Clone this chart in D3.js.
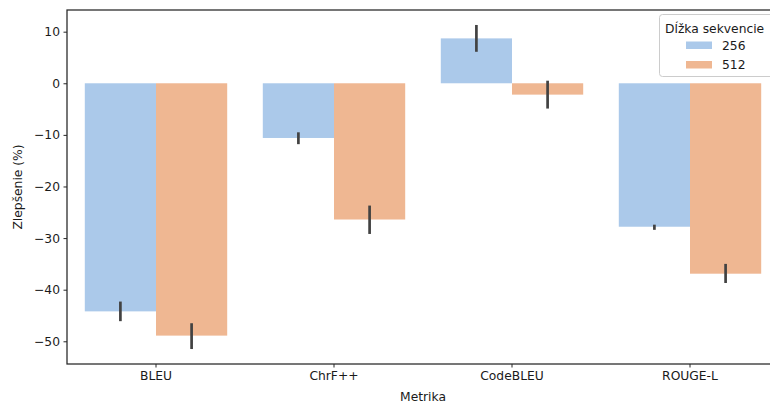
<!DOCTYPE html>
<html>
<head>
<meta charset="utf-8">
<script src="https://cdn.jsdelivr.net/npm/d3@7"></script>
<style>
  body { margin: 0; background: #fff; }
  text { font-family: "DejaVu Sans", sans-serif; fill: #1a1a1a; }
</style>
</head>
<body>
<div id="chart"></div>
<script>
// data
var metrics = ["BLEU", "ChrF++", "CodeBLEU", "ROUGE-L"];
var seqLens = ["256", "512"];
var mean256 = [-44.2, -10.6, 8.7, -27.8];
var mean512 = [-48.9, -26.4, -2.2, -36.9];
var ciLow256 = [-46.1, -11.8, 6.1, -28.4];
var ciHigh256 = [-42.3, -9.5, 11.3, -27.4];
var ciLow512 = [-51.5, -29.2, -4.9, -38.7];
var ciHigh512 = [-46.5, -23.7, 0.5, -35.0];
var yTicks = [10, 0, -10, -20, -30, -40, -50];

var colors = {"256": "#abc9ea", "512": "#efb792"};
var fs = "12.3px";

// set the dimensions and margins of the graph
var margin = {top: 10, right: -9, bottom: 42, left: 67},
    width = 770 - margin.left - margin.right,
    height = 406 - margin.top - margin.bottom;

var svg = d3.select("#chart")
  .append("svg")
    .attr("width", 770)
    .attr("height", 406)
  .append("g")
    .attr("transform", "translate(" + margin.left + "," + margin.top + ")");

var x = d3.scaleBand()
  .domain(metrics)
  .range([0, width])
  .padding(0);

var xSub = d3.scaleBand()
  .domain(seqLens)
  .range([x.bandwidth() * 0.1, x.bandwidth() * 0.9]);

var y = d3.scaleLinear()
  .domain([-54.4, 14.2])
  .range([height, 0]);

// rows for bars
var rows = [];
metrics.forEach(function(m, i) {
  rows.push({metric: m, len: "256", value: mean256[i], lo: ciLow256[i], hi: ciHigh256[i]});
  rows.push({metric: m, len: "512", value: mean512[i], lo: ciLow512[i], hi: ciHigh512[i]});
});

svg.selectAll("myBars")
  .data(rows)
  .enter()
  .append("rect")
    .attr("x", function(d) { return x(d.metric) + xSub(d.len); })
    .attr("width", xSub.bandwidth())
    .attr("y", function(d) { return y(Math.max(0, d.value)); })
    .attr("height", function(d) { return Math.abs(y(d.value) - y(0)); })
    .style("fill", function(d) { return colors[d.len]; });

// error bars
svg.selectAll("myErr")
  .data(rows)
  .enter()
  .append("line")
    .attr("x1", function(d) { return x(d.metric) + xSub(d.len) + xSub.bandwidth() / 2; })
    .attr("x2", function(d) { return x(d.metric) + xSub(d.len) + xSub.bandwidth() / 2; })
    .attr("y1", function(d) { return y(d.lo); })
    .attr("y2", function(d) { return y(d.hi); })
    .attr("stroke", "#424242")
    .attr("stroke-width", 2.7);

// axes
var yAxis = svg.append("g")
  .call(d3.axisLeft(y).tickValues(yTicks).tickSize(3.5).tickPadding(3.5)
    .tickFormat(function(d) { return d < 0 ? "\u2212" + Math.abs(d) : d; }));
var xAxis = svg.append("g")
  .attr("transform", "translate(0," + height + ")")
  .call(d3.axisBottom(x).tickSize(3.5).tickPadding(3.5));

[xAxis, yAxis].forEach(function(a) {
  a.select(".domain").remove();
  a.selectAll("line").attr("stroke", "#262626").attr("stroke-width", 1);
  a.selectAll("text").style("font-size", fs).style("fill", "#1a1a1a");
});

// spines
svg.append("rect")
  .attr("x", 0).attr("y", 0)
  .attr("width", width).attr("height", height)
  .style("fill", "none")
  .style("stroke", "#262626")
  .style("stroke-width", 1.25);

// axis labels
svg.append("text")
  .attr("x", width / 2)
  .attr("y", height + 37)
  .style("text-anchor", "middle")
  .style("font-size", fs)
  .text("Metrika");

svg.append("text")
  .attr("transform", "rotate(-90)")
  .attr("x", -height / 2)
  .attr("y", -45)
  .style("text-anchor", "middle")
  .style("font-size", fs)
  .text("Zlepšenie (%)");

// legend
var lg = d3.select("svg").append("g");
lg.append("rect")
  .attr("x", 659.5).attr("y", 14.5)
  .attr("width", 120).attr("height", 62)
  .attr("rx", 3)
  .style("fill", "#fff").style("fill-opacity", 0.8)
  .style("stroke", "#cccccc");
lg.append("text")
  .attr("x", 665).attr("y", 33)
  .style("font-size", fs)
  .text("Dĺžka sekvencie");
seqLens.forEach(function(s, i) {
  lg.append("rect")
    .attr("x", 686).attr("y", 41.5 + i * 19.5)
    .attr("width", 26).attr("height", 7.5)
    .style("fill", colors[s]);
  lg.append("text")
    .attr("x", 722).attr("y", 45.5 + i * 19.5)
    .attr("dy", "0.35em")
    .style("font-size", fs)
    .text(s);
});
</script>
</body>
</html>
